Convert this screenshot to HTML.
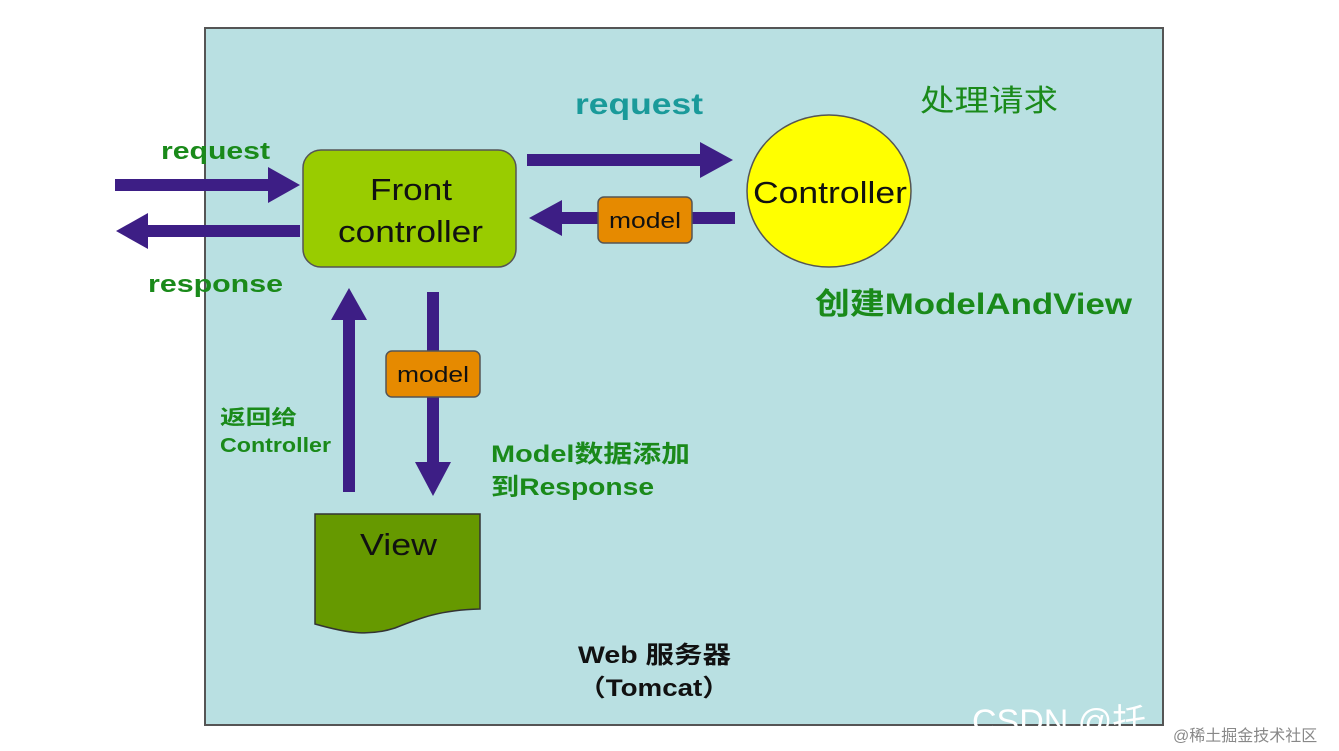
<!DOCTYPE html>
<html><head><meta charset="utf-8"><style>
html,body{margin:0;padding:0;background:#fff;}
svg{display:block;}
text{font-family:"Liberation Sans","Noto Sans CJK SC",sans-serif;}
</style></head><body>
<svg width="1339" height="751" viewBox="0 0 1339 751" xmlns="http://www.w3.org/2000/svg">
<rect x="205" y="28" width="958" height="697" fill="#b9e0e2" stroke="#555" stroke-width="2"/>
<g fill="#3d1e85">
<polygon points="115,179 268,179 268,167 300,185 268,203 268,191 115,191"/>
<polygon points="300,225 148,225 148,213 116,231 148,249 148,237 300,237"/>
<polygon points="527,154 700,154 700,142 733,160 700,178 700,166 527,166"/>
<polygon points="735,212 562,212 562,200 529,218 562,236 562,224 735,224"/>
<polygon points="343,492 343,320 331,320 349,288 367,320 355,320 355,492"/>
<polygon points="427,292 427,462 415,462 433,496 451,462 439,462 439,292"/>
</g>
<rect x="303" y="150" width="213" height="117" rx="18" fill="#99cc00" stroke="#555" stroke-width="1.5"/>
<text x="370" y="200" font-size="31" textLength="82" lengthAdjust="spacingAndGlyphs" fill="#111">Front</text>
<text x="338" y="242" font-size="31" textLength="145" lengthAdjust="spacingAndGlyphs" fill="#111">controller</text>
<ellipse cx="829" cy="191" rx="82" ry="76" fill="#ffff00" stroke="#555" stroke-width="1.5"/>
<text x="753" y="203" font-size="31" textLength="154" lengthAdjust="spacingAndGlyphs" fill="#111">Controller</text>
<rect x="598" y="197" width="94" height="46" rx="6" fill="#e68a00" stroke="#555" stroke-width="1.5"/>
<text x="609" y="228" font-size="22" textLength="72" lengthAdjust="spacingAndGlyphs" fill="#111">model</text>
<rect x="386" y="351" width="94" height="46" rx="6" fill="#e68a00" stroke="#555" stroke-width="1.5"/>
<text x="397" y="382" font-size="22" textLength="72" lengthAdjust="spacingAndGlyphs" fill="#111">model</text>
<path d="M315,514 L480,514 L480,609 C440,610 420,618 395,628 C370,636 350,634 315,624 Z" fill="#669900" stroke="#333" stroke-width="1.5"/>
<text x="360" y="555" font-size="31" textLength="77" lengthAdjust="spacingAndGlyphs" fill="#111">View</text>
<g font-weight="bold" fill="#1a8a1a">
<text x="161" y="159" font-size="24" textLength="109" lengthAdjust="spacingAndGlyphs">request</text>
<text x="148" y="292" font-size="24" textLength="135" lengthAdjust="spacingAndGlyphs">response</text>
<text x="575" y="114" font-size="30" fill="#1a9a9a" textLength="128" lengthAdjust="spacingAndGlyphs">request</text>
<text x="920" y="111" font-size="30" font-weight="normal" textLength="138" lengthAdjust="spacingAndGlyphs">处理请求</text>
<text x="815" y="314" font-size="30" textLength="317" lengthAdjust="spacingAndGlyphs">创建ModelAndView</text>
<text x="220" y="424" font-size="20" textLength="77" lengthAdjust="spacingAndGlyphs">返回给</text>
<text x="220" y="452" font-size="20" textLength="111" lengthAdjust="spacingAndGlyphs">Controller</text>
<text x="491" y="462" font-size="24" textLength="199" lengthAdjust="spacingAndGlyphs">Model数据添加</text>
<text x="491" y="495" font-size="24" textLength="163" lengthAdjust="spacingAndGlyphs">到Response</text>
</g>
<text x="578" y="663" font-size="24" font-weight="bold" fill="#111" textLength="153" lengthAdjust="spacingAndGlyphs">Web 服务器</text>
<text x="578" y="696" font-size="24" font-weight="bold" fill="#111" textLength="152" lengthAdjust="spacingAndGlyphs">（Tomcat）</text>
<text x="972" y="733" font-size="34" fill="#fff">CSDN @托</text>
<rect x="1164" y="700" width="175" height="51" fill="#fff"/>
<text x="1173" y="741" font-size="16" fill="#888">@稀土掘金技术社区</text>
</svg>
</body></html>
